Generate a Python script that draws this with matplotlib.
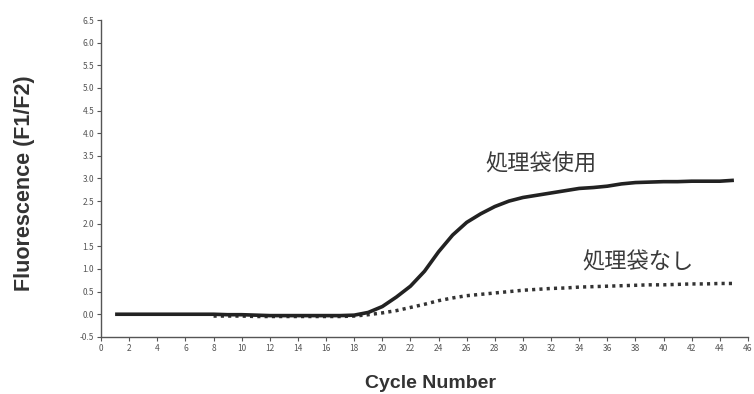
import matplotlib
matplotlib.use("Agg")
import matplotlib.pyplot as plt

cycles = list(range(1, 46))
with_bag = [0.0, 0.0, 0.0, 0.0, 0.0, 0.0, 0.0, 0.0, -0.01, -0.01,
            -0.02, -0.03, -0.03, -0.03, -0.03, -0.03, -0.03, -0.02, 0.04, 0.17,
            0.38, 0.62, 0.95, 1.38, 1.75, 2.03, 2.22, 2.38, 2.50, 2.58,
            2.63, 2.68, 2.73, 2.78, 2.80, 2.83, 2.88, 2.91, 2.92, 2.93,
            2.93, 2.94, 2.94, 2.94, 2.96]
dot_cycles = list(range(8, 46))
without_bag = [-0.04, -0.04, -0.04, -0.05, -0.05, -0.05, -0.05, -0.05, -0.05, -0.05,
               -0.04, -0.01, 0.03, 0.08, 0.15, 0.22, 0.30, 0.36, 0.41, 0.44,
               0.47, 0.50, 0.53, 0.55, 0.57, 0.58, 0.60, 0.61, 0.62, 0.63,
               0.64, 0.65, 0.65, 0.66, 0.67, 0.67, 0.68, 0.68]
xticks = list(range(0, 47, 2))
yticks = [-0.5, 0.0, 0.5, 1.0, 1.5, 2.0, 2.5, 3.0, 3.5, 4.0, 4.5, 5.0, 5.5, 6.0, 6.5]
label_with = "処理袋使用"
label_without = "処理袋なし"

plt.rcParams['font.family'] = ['Noto Sans CJK JP', 'DejaVu Sans']

fig = plt.figure(figsize=(7.54, 3.94), dpi=100)
ax = fig.add_axes([0.134, 0.145, 0.858, 0.804])
ax.plot(dot_cycles, without_bag, linestyle=(0, (0.9, 1.2)), color='#333333', lw=2.5)
ax.plot(cycles, with_bag, color='#222222', lw=2.6, solid_capstyle='butt')

ax.set_xlim(0, 46)
ax.set_ylim(-0.5, 6.5)
ax.set_xticks(xticks)
ax.set_yticks(yticks)
ax.set_yticklabels([f"{v:.1f}" for v in yticks])
ax.tick_params(axis='both', labelsize=6, colors='#555555', length=3, width=0.8, pad=2)
for s in ['top', 'right']:
    ax.spines[s].set_visible(False)
for s in ['left', 'bottom']:
    ax.spines[s].set_color('#555555')
    ax.spines[s].set_linewidth(1.0)

ax.set_xlabel("Cycle Number", fontsize=14, fontweight='bold', color='#333333',
              family=['Liberation Sans', 'DejaVu Sans'])
ax.set_ylabel("Fluorescence (F1/F2)", fontsize=15.5, fontweight='bold', color='#333333',
              family=['Liberation Sans', 'DejaVu Sans'])
ax.xaxis.set_label_coords(0.51, -0.12)
ax.yaxis.set_label_coords(-0.102, 0.484)

ax.text(31.3, 3.33, label_with, fontsize=16, color='#3a3a3a', ha='center', va='center')
ax.text(38.2, 1.15, label_without, fontsize=16, color='#3a3a3a', ha='center', va='center')

fig.savefig("out.png", dpi=100, facecolor='white')
